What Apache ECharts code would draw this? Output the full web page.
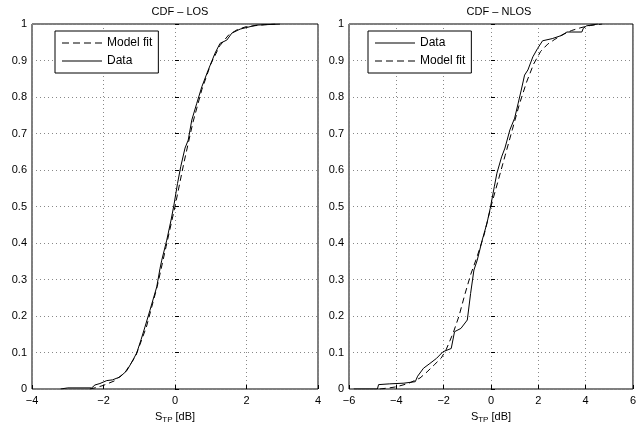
<!DOCTYPE html>
<html lang="en">
<head>
    <meta charset="UTF-8">
    <title>CDF</title>
    <script src="https://cdn.jsdelivr.net/npm/echarts@6/dist/echarts.min.js"></script>
    <style>
        body { margin: 0; background: #fff; }
    </style>
</head>
<body>
    <div id="myChart" style="width: 639px;height: 432px;"></div>
    <script>
        // values, [S_TP dB, CDF]
        var losData = [[-3.2,0],[-3.0,0.003],[-2.33,0.003],[-2.3,0.007],[-2.24,0.011],[-2.1,0.015],[-1.91,0.023],[-1.75,0.025],
            [-1.54,0.033],[-1.35,0.05],[-1.2,0.075],[-1.07,0.099],[-0.95,0.135],[-0.84,0.17],[-0.7,0.216],[-0.51,0.28],
            [-0.42,0.33],[-0.37,0.353],[-0.23,0.408],[-0.11,0.463],[-0.03,0.504],[0.07,0.563],[0.16,0.609],[0.28,0.66],
            [0.37,0.682],[0.47,0.737],[0.61,0.783],[0.75,0.828],[0.93,0.874],[1.12,0.92],[1.26,0.947],[1.45,0.956],
            [1.59,0.975],[1.82,0.986],[2.28,0.997],[2.94,1.0]];
        var losFit = [[-2.38,0],[-2.2,0.004],[-2.0,0.01],[-1.7,0.022],[-1.4,0.045],[-1.1,0.09],[-0.8,0.17],[-0.5,0.28],
            [-0.25,0.39],[0,0.5],[0.25,0.62],[0.5,0.73],[0.75,0.82],[1.0,0.89],[1.25,0.94],[1.5,0.97],[1.75,0.985],
            [2.0,0.993],[2.5,0.998],[2.8,1.0]];
        var nlosData = [[-5.8,0],[-4.8,0],[-4.75,0.012],[-4.3,0.014],[-3.68,0.016],[-3.6,0.02],[-3.2,0.02],[-3.1,0.035],
            [-2.85,0.057],[-2.58,0.07],[-2.3,0.084],[-2.03,0.102],[-1.68,0.111],[-1.54,0.157],[-1.27,0.166],[-1.0,0.189],
            [-0.86,0.262],[-0.72,0.326],[-0.58,0.353],[-0.37,0.408],[-0.17,0.454],[-0.03,0.495],[0.14,0.554],[0.25,0.591],
            [0.45,0.636],[0.59,0.66],[0.8,0.71],[1.0,0.742],[1.15,0.783],[1.28,0.819],[1.42,0.86],[1.56,0.874],
            [1.77,0.91],[1.97,0.933],[2.18,0.954],[2.59,0.96],[3.0,0.969],[3.21,0.978],[3.84,0.978],[3.9,0.988],
            [4.04,0.995],[4.52,1.0]];
        var nlosFit = [[-4.7,0],[-4.3,0.003],[-4.0,0.006],[-3.5,0.015],[-3.0,0.03],[-2.7,0.047],[-2.4,0.066],[-2.1,0.085],
            [-1.9,0.107],[-1.6,0.153],[-1.35,0.2],[-1.1,0.26],[-0.85,0.315],[-0.6,0.36],[-0.3,0.42],[0,0.5],[0.3,0.57],
            [0.6,0.64],[0.9,0.71],[1.2,0.78],[1.5,0.84],[1.8,0.89],[2.1,0.925],[2.4,0.945],[2.7,0.958],[3.0,0.97],
            [3.4,0.982],[3.8,0.99],[4.2,0.996],[4.7,1.0]];
        var titles = ['CDF \u2013 LOS', 'CDF \u2013 NLOS'];
        var xRanges = [[-4, 4, 2], [-6, 6, 2]];

        var font = 'Liberation Sans, Arial, sans-serif';
        var minus = function (v) { return String(v).replace('-', '\u2212'); };
        var dotted = { show: true, lineStyle: { color: '#888', type: [1, 3], width: 1 } };
        // legend samples: thin solid line, and a dashed one
        var solidIcon = 'path://M0,0H40V1H0Z';
        var dashIcon = 'path://M0,0H7V1H0Z M11,0H18V1H11Z M22,0H29V1H22Z M33,0H40V1H33Z';

        function xAxis(i) {
            return {
                type: 'value', gridIndex: i, min: xRanges[i][0], max: xRanges[i][1], interval: xRanges[i][2],
                axisLine: { show: false }, axisTick: { inside: true, length: 4, lineStyle: { color: '#000' } },
                axisLabel: { color: '#000', fontSize: 11, fontFamily: font, margin: 6, formatter: minus },
                splitLine: dotted,
                name: '{s|S}{b|TP} [dB]', nameLocation: 'middle', nameGap: 21,
                nameTextStyle: { color: '#000', fontSize: 11, fontFamily: font,
                    rich: { s: { fontSize: 11, fontFamily: font, color: '#000' },
                            b: { fontSize: 8, fontFamily: font, color: '#000', verticalAlign: 'bottom', padding: [6, 0, 0, 0] } } }
            };
        }
        function yAxis(i) {
            return {
                type: 'value', gridIndex: i, min: 0, max: 1, interval: 0.1,
                axisLine: { show: false }, axisTick: { inside: true, length: 4, lineStyle: { color: '#000' } },
                axisLabel: { color: '#000', fontSize: 11, fontFamily: font, margin: 5 },
                splitLine: dotted
            };
        }
        function line(name, data, i, dashed) {
            return {
                name: name, type: 'line', xAxisIndex: i, yAxisIndex: i, data: data,
                showSymbol: false, symbol: 'none', animation: false, silent: true,
                lineStyle: { color: '#000', width: 1, type: dashed ? [6, 4] : 'solid' },
                itemStyle: { color: '#000' }
            };
        }
        function legend(left, names) {
            return {
                left: left, top: 31, orient: 'vertical', selectedMode: false,
                data: names.map(function (n) { return { name: n, icon: n === 'Data' ? solidIcon : dashIcon }; }),
                backgroundColor: '#fff', borderColor: '#000', borderWidth: 1, padding: [6, 6, 6, 7],
                itemWidth: 40, itemHeight: 1, itemGap: 6,
                itemStyle: { color: '#000', borderWidth: 0 },
                textStyle: { color: '#000', fontSize: 12, fontFamily: font }
            };
        }

        var myChart = echarts.init(document.getElementById('myChart'));
        var option = {
            backgroundColor: '#fff',
            animation: false,
            title: [
                { text: titles[0], left: 175, top: 1, textAlign: 'center', textStyle: { fontSize: 11, fontWeight: 'normal', color: '#000', fontFamily: font } },
                { text: titles[1], left: 494, top: 1, textAlign: 'center', textStyle: { fontSize: 11, fontWeight: 'normal', color: '#000', fontFamily: font } }
            ],
            legend: [legend(55, ['Model fit', 'Data']), legend(368, ['Data', 'Model fit'])],
            grid: [
                { left: 32, top: 24, width: 286, height: 365, show: true, borderColor: '#000', borderWidth: 1, containLabel: false },
                { left: 349, top: 24, width: 289, height: 365, show: true, borderColor: '#000', borderWidth: 1, containLabel: false }
            ],
            xAxis: [xAxis(0), xAxis(1)],
            yAxis: [yAxis(0), yAxis(1)],
            series: [
                line('Model fit', losFit, 0, true),
                line('Data', losData, 0, false),
                line('Data', nlosData, 1, false),
                line('Model fit', nlosFit, 1, true)
            ]
        };
        myChart.setOption(option);
    </script>
</body>
</html>
